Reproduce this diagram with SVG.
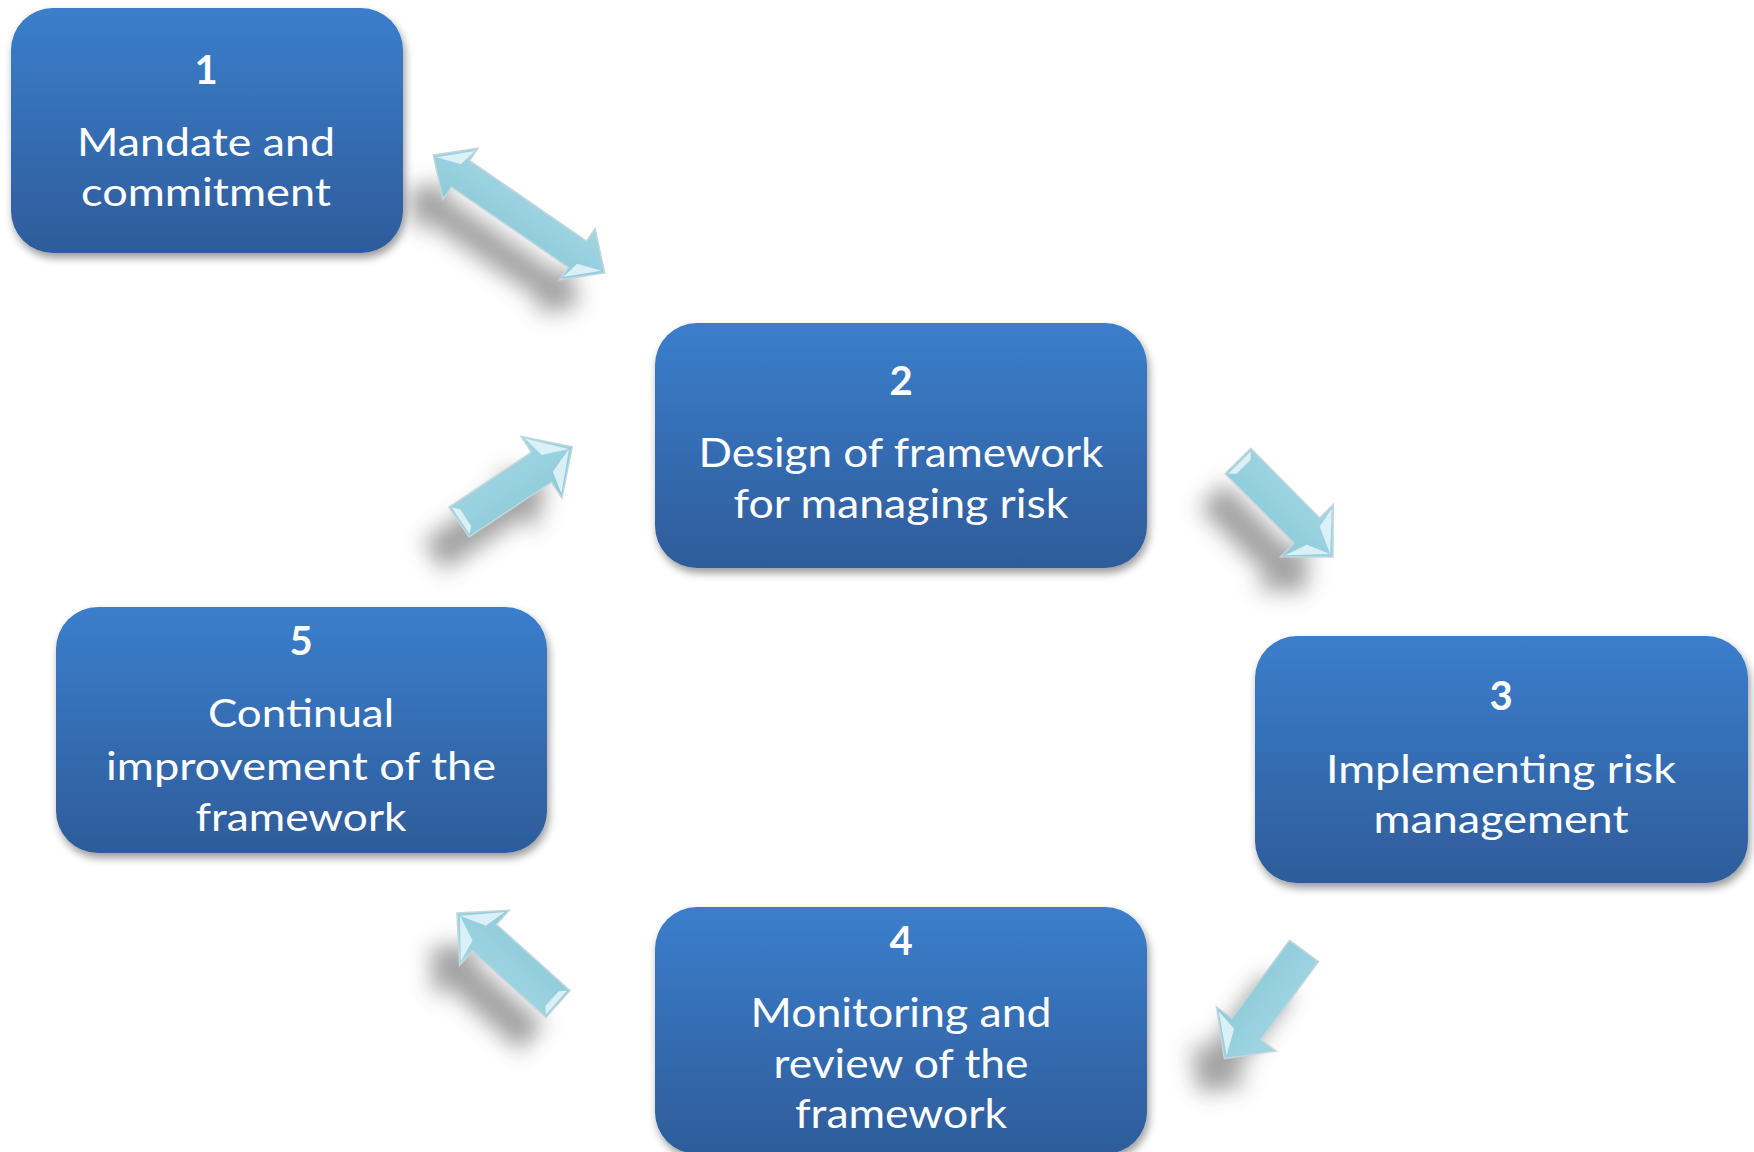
<svg xmlns="http://www.w3.org/2000/svg" width="1754" height="1152" viewBox="0 0 1754 1152">
<defs>
  <linearGradient id="boxg" x1="0" y1="0" x2="0" y2="1">
    <stop offset="0" stop-color="#3b7ecc"/>
    <stop offset="1" stop-color="#2e5c9a"/>
  </linearGradient>
  <filter id="bshadow" x="-10%" y="-10%" width="120%" height="125%">
    <feGaussianBlur in="SourceAlpha" stdDeviation="4"/>
    <feOffset dx="2" dy="5" result="b"/>
    <feComponentTransfer><feFuncA type="linear" slope="0.4"/></feComponentTransfer>
    <feMerge><feMergeNode/><feMergeNode in="SourceGraphic"/></feMerge>
  </filter>
  <filter id="ashadow" x="-60%" y="-60%" width="220%" height="220%">
    <feGaussianBlur stdDeviation="11"/>
  </filter>
  <linearGradient id="arrg" x1="0" y1="0" x2="0" y2="1">
    <stop offset="0" stop-color="#a2d6e4"/>
    <stop offset="1" stop-color="#8ccad9"/>
  </linearGradient>
</defs>
<style>
  .box { fill: url(#boxg); filter: url(#bshadow); }
  .num { font-family: Lato, "Liberation Sans", sans-serif; font-weight: bold; fill: #ffffff; text-anchor: middle; font-size: 40px; }
  .lbl { font-family: Lato, "Liberation Sans", sans-serif; fill: #ffffff; text-anchor: middle; font-size: 39px; }
  .lbl2 { font-size: 41px; }
  .arr { fill: url(#arrg); stroke: #c5d6da; stroke-width: 1.5; stroke-linejoin: miter; }
  .hl { fill: #e6f6fa; opacity: 0.85; }
  .sh { fill: #444444; opacity: 0.5; filter: url(#ashadow); }
</style>
<rect width="1754" height="1152" fill="#ffffff"/>

<g id="connectors">
  <!-- shadows -->
  <g transform="translate(-26,34)">
    <path class="sh" transform="translate(519,214) rotate(34.5)" d="M-104,0 L-71,-31 L-71,-16 L71,-16 L71,-31 L104,0 L71,31 L71,16 L-71,16 L-71,31 Z"/>
    <path class="sh" transform="translate(1238,461) rotate(45.3)" d="M0,-18 L98,-18 L98,-37 L135,0 L98,37 L98,18 L0,18 Z"/>
    <path class="sh" transform="translate(1304,951) rotate(126.5)" d="M0,-18 L97,-18 L97,-37 L134,0 L97,37 L97,18 L0,18 Z"/>
    <path class="sh" transform="translate(558,1004) rotate(-138)" d="M0,-18 L99,-18 L99,-37 L136,0 L99,37 L99,18 L0,18 Z"/>
    <path class="sh" transform="translate(459,522) rotate(-33.6)" d="M0,-18 L99,-18 L99,-37 L136,0 L99,37 L99,18 L0,18 Z"/>
  </g>
  <!-- arrow 1 <-> 2 -->
  <g transform="translate(519,214) rotate(34.5)">
    <path class="arr" d="M-104,0 L-71,-31 L-71,-16 L71,-16 L71,-31 L104,0 L71,31 L71,16 L-71,16 L-71,31 Z"/>
    <path class="hl" d="M-100,0 L-72,-27 L-76,-8 Z"/>
    <path class="hl" d="M100,0 L72,27 L76,8 Z"/>
  </g>
  <!-- arrow 2 -> 3 -->
  <g transform="translate(1238,461) rotate(45.3)">
    <path class="arr" d="M0,-18 L98,-18 L98,-37 L135,0 L98,37 L98,18 L0,18 Z"/>
    <path class="hl" d="M131,0 L100,-33 L104,-12 Z"/>
    <path class="hl" d="M131,0 L100,33 L108,10 Z"/>
    <path class="hl" d="M2,-16 L8,-10 L8,10 L2,16 Z"/>
  </g>
  <!-- arrow 3 -> 4 -->
  <g transform="translate(1304,951) rotate(126.5)">
    <path class="arr" d="M0,-18 L97,-18 L97,-37 L134,0 L97,37 L97,18 L0,18 Z"/>
    <path class="hl" d="M130,0 L99,33 L104,10 Z"/>
  </g>
  <!-- arrow 4 -> 5 -->
  <g transform="translate(558,1004) rotate(-138)">
    <path class="arr" d="M0,-18 L99,-18 L99,-37 L136,0 L99,37 L99,18 L0,18 Z"/>
    <path class="hl" d="M132,0 L101,-33 L106,-10 Z"/>
    <path class="hl" d="M132,0 L101,33 L106,10 Z"/>
    <path class="hl" d="M2,-16 L8,-10 L8,10 L2,16 Z"/>
  </g>
  <!-- arrow 5 -> 2 -->
  <g transform="translate(459,522) rotate(-33.6)">
    <path class="arr" d="M0,-18 L99,-18 L99,-37 L136,0 L99,37 L99,18 L0,18 Z"/>
    <path class="hl" d="M132,0 L101,-33 L106,-10 Z"/>
    <path class="hl" d="M132,0 L101,33 L106,10 Z"/>
    <path class="hl" d="M2,-16 L8,-10 L8,10 L2,16 Z"/>
  </g>
</g>

<g id="node1">
  <rect class="box" x="11" y="8" width="392" height="245" rx="42"/>
  <text class="num" x="206" y="84">1</text>
  <text class="lbl" x="206" y="156" textLength="258" lengthAdjust="spacingAndGlyphs">Mandate and</text>
  <text class="lbl" x="206" y="206" textLength="250" lengthAdjust="spacingAndGlyphs">commitment</text>
</g>

<g id="node2">
  <rect class="box" x="655" y="323" width="492" height="245" rx="42"/>
  <text class="num" x="901" y="395">2</text>
  <text class="lbl lbl2" x="901" y="467" textLength="405" lengthAdjust="spacingAndGlyphs">Design of framework</text>
  <text class="lbl lbl2" x="901" y="518" textLength="335" lengthAdjust="spacingAndGlyphs">for managing risk</text>
</g>

<g id="node3">
  <rect class="box" x="1255" y="636" width="493" height="247" rx="42"/>
  <text class="num" x="1501" y="710">3</text>
  <text class="lbl" x="1501" y="783" textLength="350" lengthAdjust="spacingAndGlyphs">Implementing risk</text>
  <text class="lbl" x="1501" y="833" textLength="255" lengthAdjust="spacingAndGlyphs">management</text>
</g>

<g id="node4">
  <rect class="box" x="655" y="907" width="492" height="247" rx="42"/>
  <text class="num" x="901" y="955">4</text>
  <text class="lbl lbl2" x="901" y="1027" textLength="301" lengthAdjust="spacingAndGlyphs">Monitoring and</text>
  <text class="lbl lbl2" x="901" y="1078" textLength="255" lengthAdjust="spacingAndGlyphs">review of the</text>
  <text class="lbl lbl2" x="901" y="1128" textLength="212" lengthAdjust="spacingAndGlyphs">framework</text>
</g>

<g id="node5">
  <rect class="box" x="56" y="607" width="491" height="246" rx="42"/>
  <text class="num" x="301" y="655">5</text>
  <text class="lbl" x="301" y="727" textLength="186" lengthAdjust="spacingAndGlyphs">Continual</text>
  <text class="lbl" x="301" y="780" textLength="390" lengthAdjust="spacingAndGlyphs">improvement of the</text>
  <text class="lbl" x="301" y="831" textLength="211" lengthAdjust="spacingAndGlyphs">framework</text>
</g>
</svg>
